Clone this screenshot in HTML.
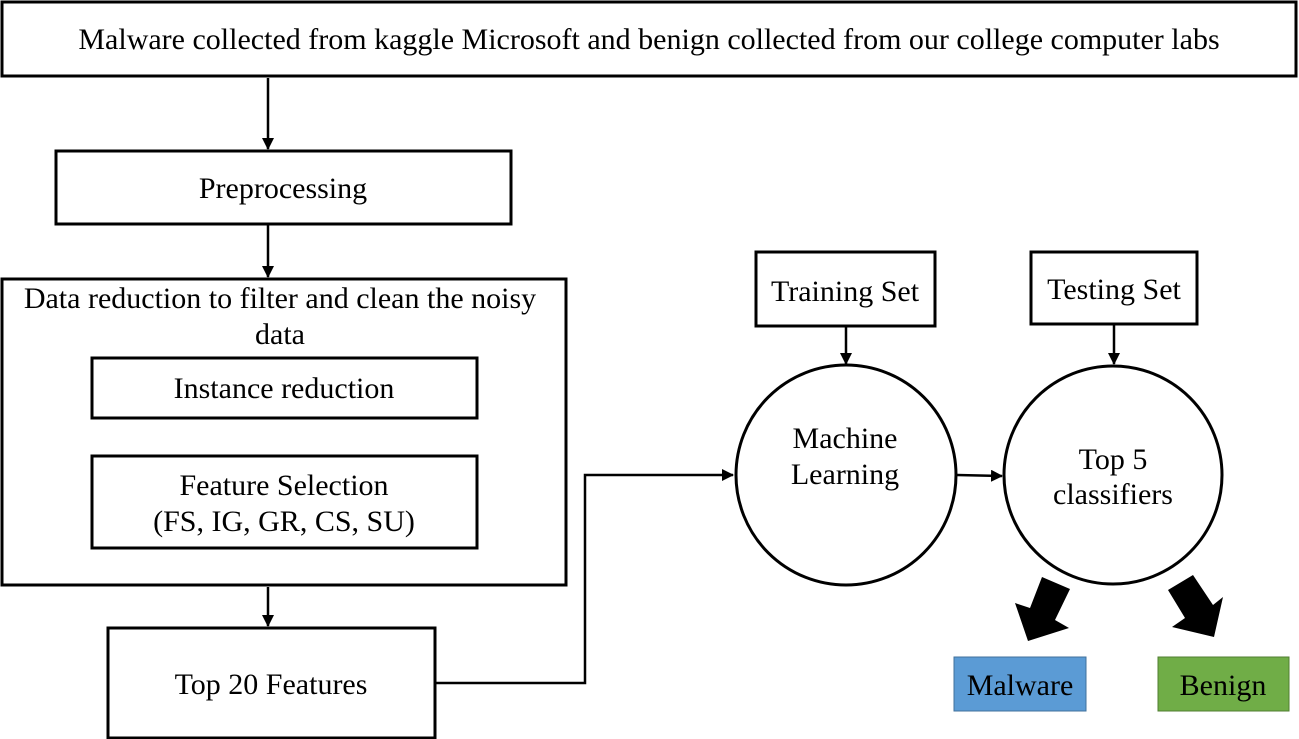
<!DOCTYPE html>
<html><head><style>body{margin:0;background:#fff}svg{display:block}text{font-family:"Liberation Serif",serif;font-size:30px;fill:#000}</style></head><body>
<svg width="1299" height="739" viewBox="0 0 1299 739" xmlns="http://www.w3.org/2000/svg">
<defs><marker id="a" markerWidth="12" markerHeight="12" refX="11" refY="6" orient="auto" markerUnits="userSpaceOnUse"><path d="M0,0 L12,6 L0,12 z" fill="#000"/></marker></defs>
<g fill="none" stroke="#000" stroke-width="3">
<rect x="2" y="2" width="1294" height="74"/>
<rect x="56" y="151" width="455" height="73"/>
<rect x="2" y="279" width="564" height="306"/>
<rect x="92" y="358" width="385" height="60"/>
<rect x="92" y="456" width="385" height="92"/>
<rect x="108" y="628" width="327" height="110"/>
<rect x="756" y="252" width="179" height="74"/>
<rect x="1031" y="252" width="166" height="72"/>
<circle cx="846" cy="475" r="110"/>
<circle cx="1113" cy="475" r="109"/>
</g>
<g stroke="#000" stroke-width="2.5" fill="none" marker-end="url(#a)">
<line x1="268" y1="78" x2="268" y2="149"/>
<line x1="268" y1="225" x2="268" y2="277"/>
<line x1="268" y1="587" x2="268" y2="626"/>
<polyline points="436,683 585,683 585,475 733,475"/>
<line x1="846" y1="327" x2="846" y2="364"/>
<line x1="1114" y1="325" x2="1114" y2="364"/>
<line x1="957" y1="475" x2="1002" y2="476"/>
</g>
<polygon points="1042,577 1070,589 1055,620 1069,628 1028,641 1015,603 1030,608" fill="#000"/>
<polygon points="1193,575 1168,590 1185,618 1172,627 1214,637 1223,597 1213,605" fill="#000"/>
<rect x="954" y="657" width="132" height="54" fill="#5b9bd5" stroke="#41719c" stroke-width="1"/>
<rect x="1158" y="657" width="131" height="54" fill="#70ad47" stroke="#507e32" stroke-width="1"/>
<g text-anchor="middle">
<text x="649" y="49">Malware collected from kaggle Microsoft and benign collected from our college computer labs</text>
<text x="283" y="198">Preprocessing</text>
<text x="280" y="308">Data reduction to filter and clean the noisy</text>
<text x="280" y="344">data</text>
<text x="284" y="398">Instance reduction</text>
<text x="284" y="495">Feature Selection</text>
<text x="284" y="531">(FS, IG, GR, CS, SU)</text>
<text x="271" y="694">Top 20 Features</text>
<text x="845" y="301">Training Set</text>
<text x="1114" y="299">Testing Set</text>
<text x="845" y="448">Machine</text>
<text x="845" y="484">Learning</text>
<text x="1113" y="469">Top 5</text>
<text x="1113" y="504">classifiers</text>
<text x="1020" y="695">Malware</text>
<text x="1223" y="695">Benign</text>
</g>
</svg>
</body></html>
